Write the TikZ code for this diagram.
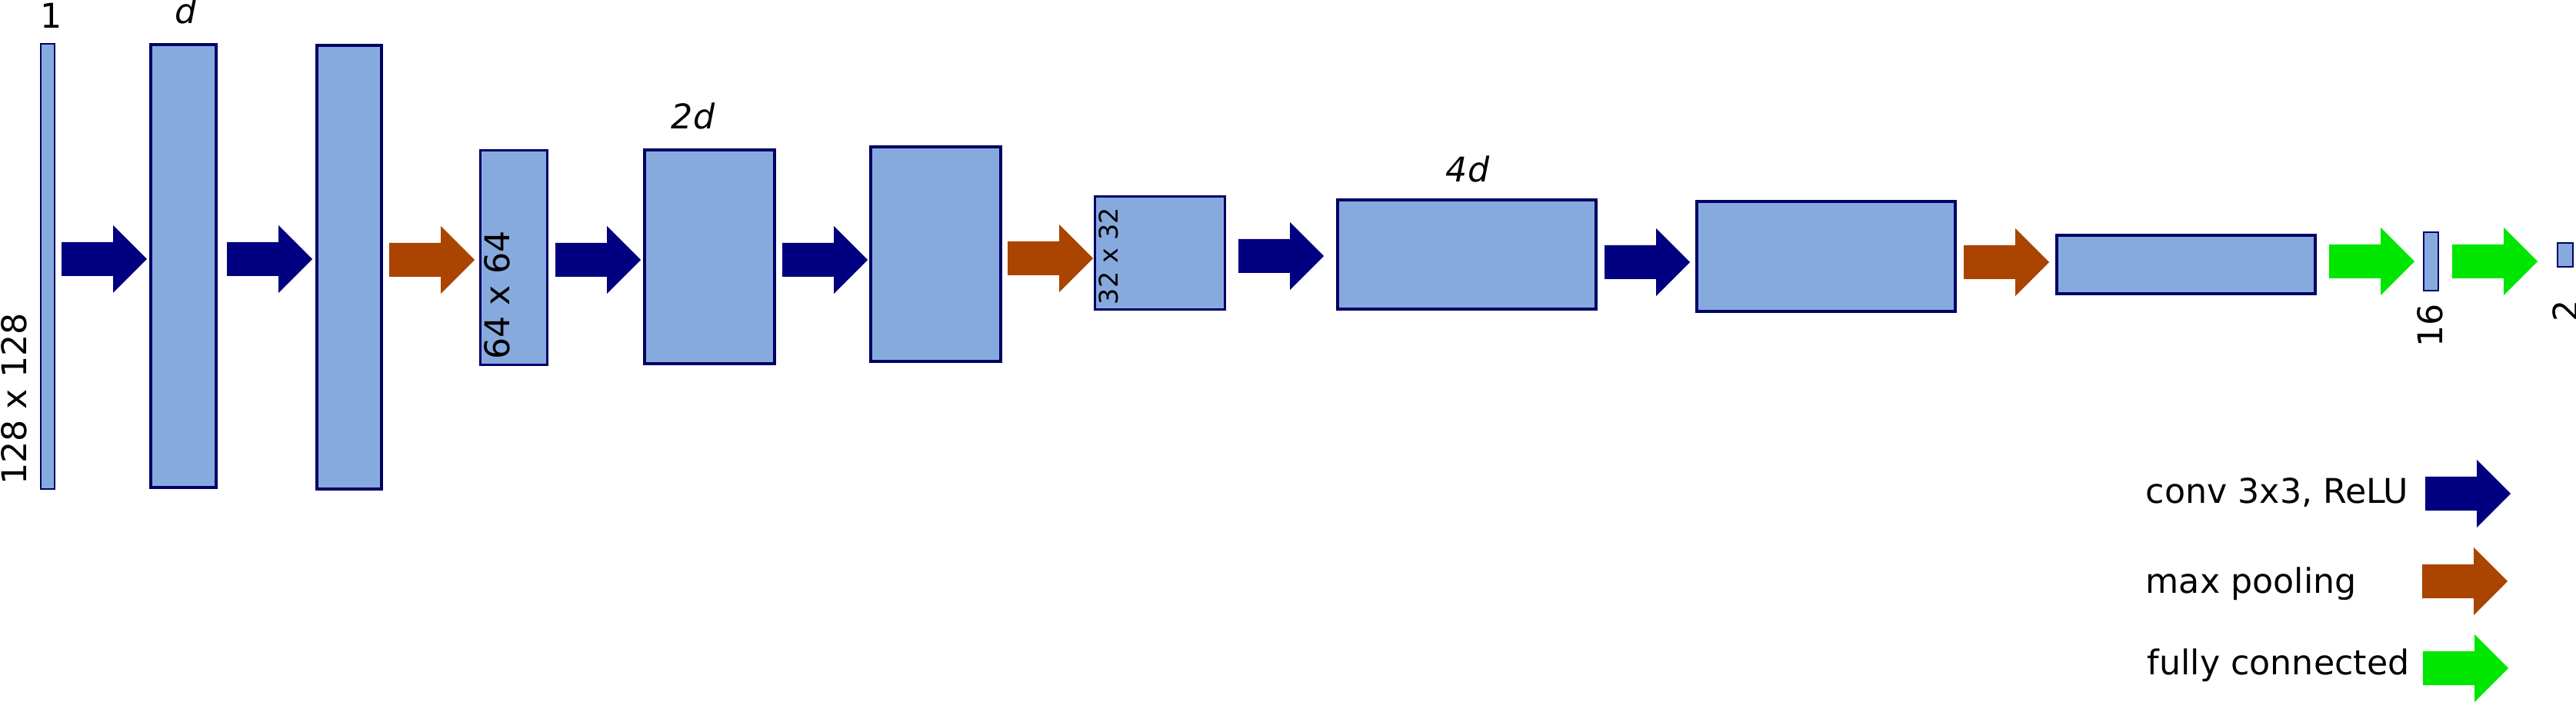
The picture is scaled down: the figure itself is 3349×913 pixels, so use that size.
\documentclass[tikz,border=0pt]{standalone}
\usepackage{fontspec}
\setmainfont{DejaVu Sans}
\usetikzlibrary{fit}
\definecolor{boxfill}{HTML}{87AADE}
\definecolor{boxline}{HTML}{000066}
\definecolor{convc}{HTML}{000080}
\definecolor{poolc}{HTML}{AA4400}
\definecolor{fcc}{HTML}{00E600}
\tikzset{
  layer/.style={draw=boxline, fill=boxfill, inner sep=0pt, outer sep=0pt},
  thickbox/.style={layer, line width=1.28pt},
  midbox/.style={layer, line width=0.9pt},
  thinbox/.style={layer, line width=0.63pt},
  lbl/.style={inner sep=0pt, font=\fontsize{12.6}{15}\selectfont},
  smalllbl/.style={inner sep=0pt, font=\fontsize{9.5}{11}\selectfont},
  convarrow/.style={fill=convc},
  poolarrow/.style={fill=poolc},
  fcarrow/.style={fill=fcc}
}
% block arrow: style, tail x, centre y, name
\newcommand\blockarrow[4]{%
  \coordinate (#4) at (#2,#3);
  \path[#1] (#2,#3-22) -- ++(67,0) -- ++(0,-22) -- ++(44,44) -- ++(-44,44) -- ++(0,-22) -- ++(-67,0) -- cycle;}
\begin{document}
\begin{tikzpicture}[x=0.01cm, y=-0.01cm]
\useasboundingbox (0,0) rectangle (3349,913);
\clip (0,0) rectangle (3349,913);
% layers
\node[thinbox,  fit={(53,57) (71,636)}] (in) {};
\node[thickbox, fit={(196,58) (281,634)}] (d1) {};
\node[thickbox, fit={(412,59) (496,636)}] (d2) {};
\node[midbox,   fit={(624.5,195.5) (711.5,474.5)}] (p1) {};
\node[thickbox, fit={(838,195) (1007,473)}] (e1) {};
\node[thickbox, fit={(1132,191) (1301,470)}] (e2) {};
\node[midbox,   fit={(1423.5,255.5) (1592.5,402.5)}] (p2) {};
\node[thickbox, fit={(1739,260) (2075,402)}] (f1) {};
\node[thickbox, fit={(2206,262) (2542,405)}] (f2) {};
\node[thickbox, fit={(2674,306) (3010,382)}] (p3) {};
\node[thinbox,  fit={(3151,302) (3170,378)}] (fc1) {};
\node[thinbox,  fit={(3325,316) (3345,347)}] (fc2) {};
% arrows
\blockarrow{convarrow}{80}{337}{a1}
\blockarrow{convarrow}{295}{337}{a2}
\blockarrow{poolarrow}{506}{338}{a3}
\blockarrow{convarrow}{722}{338}{a4}
\blockarrow{convarrow}{1017}{338}{a5}
\blockarrow{poolarrow}{1310}{336}{a6}
\blockarrow{convarrow}{1610}{333}{a7}
\blockarrow{convarrow}{2086}{341}{a8}
\blockarrow{poolarrow}{2553}{341}{a9}
\blockarrow{fcarrow}{3028}{340}{a10}
\blockarrow{fcarrow}{3188}{340}{a11}
% labels
\node[lbl] (t1) at (67,20) {1};
\node[lbl] (td) at (242,14) {\itshape d};
\node[lbl] (t2d) at (901,151) {\itshape 2d};
\node[lbl] (t4d) at (1908,220) {\itshape 4d};
\node[lbl, rotate=90] (tin) at (18,519) {128 x 128};
\node[lbl, rotate=90] (tp1) at (646,384) {64 x 64};
\node[smalllbl, rotate=90] (tp2) at (1441,333) {32 x 32};
\node[lbl, rotate=90] (t16) at (3159,423) {16};
\node[lbl, rotate=90] (t2) at (3335,404) {2};
% legend
\node[lbl, anchor=base west] (lconv) at (2789,655) {conv 3x3, ReLU};
\node[lbl, anchor=base west] (lpool) at (2789,771) {max pooling};
\node[lbl, anchor=base west] (lfc) at (2791,877) {fully connected};
\blockarrow{convarrow}{3153}{642}{k1}
\blockarrow{poolarrow}{3149}{756}{k2}
\blockarrow{fcarrow}{3150}{869}{k3}
\end{tikzpicture}
\end{document}
